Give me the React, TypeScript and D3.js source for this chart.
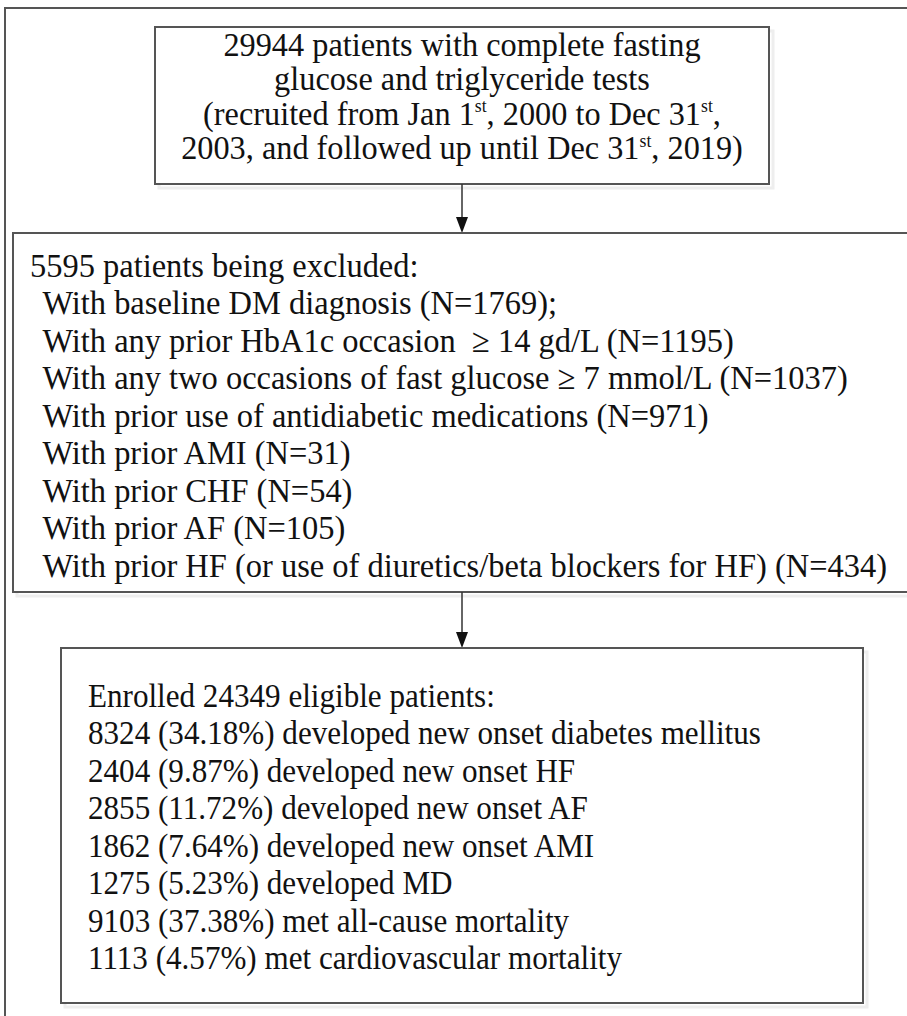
import React from "react";
import * as d3 from "d3";

// ---- data ----
type Seg = { t: string; sup?: boolean };
const topBoxLines: Seg[][] = [
  [{ t: "29944 patients with complete fasting" }],
  [{ t: "glucose and triglyceride tests" }],
  [{ t: "(recruited from Jan 1" }, { t: "st", sup: true }, { t: ", 2000 to Dec 31" }, { t: "st", sup: true }, { t: "," }],
  [{ t: "2003, and followed up until Dec 31" }, { t: "st", sup: true }, { t: ", 2019)" }],
];
const excludedTitle = "5595 patients being excluded:";
const excludedReasons = [
  "With baseline DM diagnosis (N=1769);",
  "With any prior HbA1c occasion  \u2265 14 gd/L (N=1195)",
  "With any two occasions of fast glucose \u2265 7 mmol/L (N=1037)",
  "With prior use of antidiabetic medications (N=971)",
  "With prior AMI (N=31)",
  "With prior CHF (N=54)",
  "With prior AF (N=105)",
  "With prior HF (or use of diuretics/beta blockers for HF) (N=434)",
];
const enrolledTitle = "Enrolled 24349 eligible patients:";
const outcomes = [
  "8324 (34.18%) developed new onset diabetes mellitus",
  "2404 (9.87%) developed new onset HF",
  "2855 (11.72%) developed new onset AF",
  "1862 (7.64%) developed new onset AMI",
  "1275 (5.23%) developed MD",
  "9103 (37.38%) met all-cause mortality",
  "1113 (4.57%) met cardiovascular mortality",
];

const W = 907;
const H = 1016;
const FONT = "'Liberation Serif', 'Times New Roman', serif";
const STROKE = "#555";

function Box({ x, y, w, h }: { x: number; y: number; w: number; h: number }) {
  return (
    <g>
      <rect x={x + 4} y={y + 4} width={w} height={h} fill="none" stroke="#eee" strokeWidth={3} />
      <rect x={x} y={y} width={w} height={h} fill="#fff" stroke={STROKE} strokeWidth={2} />
    </g>
  );
}

function Arrow({ x, y1, y2 }: { x: number; y1: number; y2: number }) {
  const head = 16;
  const path = d3.path();
  path.moveTo(x - 6, y2 - head);
  path.lineTo(x + 6, y2 - head);
  path.lineTo(x, y2);
  path.closePath();
  return (
    <g>
      <line x1={x} x2={x} y1={y1} y2={y2 - head + 2} stroke="#333" strokeWidth={1.5} />
      <path d={path.toString()} fill="#111" />
    </g>
  );
}

export default function App() {
  const cx = 462;
  const b1 = { x: 155, y: 27, w: 614, h: 157 };
  const b2 = { x: 13, y: 233, w: 900, h: 359 };
  const b3 = { x: 61, y: 648, w: 802, h: 355 };
  const fs = 34;
  const lh1 = 34.5;
  const lh2 = 37.5;
  const lh3 = 37.5;
  const sx1 = 0.95;
  const sx2 = 0.955;
  const sx3 = 0.915;

  return (
    <svg width={W} height={H} style={{ position: "absolute", left: 0, top: 0 }} fontFamily={FONT}>
      <rect x={0} y={0} width={W} height={H} fill="#fff" />
      <rect x={5} y={8} width={W + 20} height={H + 20} fill="none" stroke={STROKE} strokeWidth={2} />

      <Box {...b1} />
      <g transform={`translate(${cx},0) scale(${sx1},1)`}>
        {topBoxLines.map((segs, i) => (
          <text key={i} x={0} y={b1.y + 29 + i * lh1} textAnchor="middle" fontSize={fs} fill="#111">
            {segs.map((s, j) =>
              s.sup ? (
                <tspan key={j} fontSize={fs * 0.55} dy={-fs * 0.38}>{s.t}</tspan>
              ) : (
                <tspan key={j} dy={j > 0 && segs[j - 1].sup ? fs * 0.38 : 0}>{s.t}</tspan>
              )
            )}
          </text>
        ))}
      </g>

      <Arrow x={cx} y1={b1.y + b1.h} y2={b2.y} />

      <Box {...b2} />
      <g transform={`translate(${b2.x + 17},0) scale(${sx2},1)`}>
        <text x={0} y={b2.y + 44} fontSize={fs} fill="#111">{excludedTitle}</text>
        {excludedReasons.map((r, i) => (
          <text key={i} x={13} y={b2.y + 44 + (i + 1) * lh2} fontSize={fs} fill="#111" style={{ whiteSpace: "pre" }}>
            {r}
          </text>
        ))}
      </g>

      <Arrow x={cx} y1={b2.y + b2.h} y2={b3.y} />

      <Box {...b3} />
      <g transform={`translate(${b3.x + 27},0) scale(${sx3},1)`}>
        <text x={0} y={b3.y + 59} fontSize={fs} fill="#111">{enrolledTitle}</text>
        {outcomes.map((r, i) => (
          <text key={i} x={0} y={b3.y + 59 + (i + 1) * lh3} fontSize={fs} fill="#111">
            {r}
          </text>
        ))}
      </g>
    </svg>
  );
}
